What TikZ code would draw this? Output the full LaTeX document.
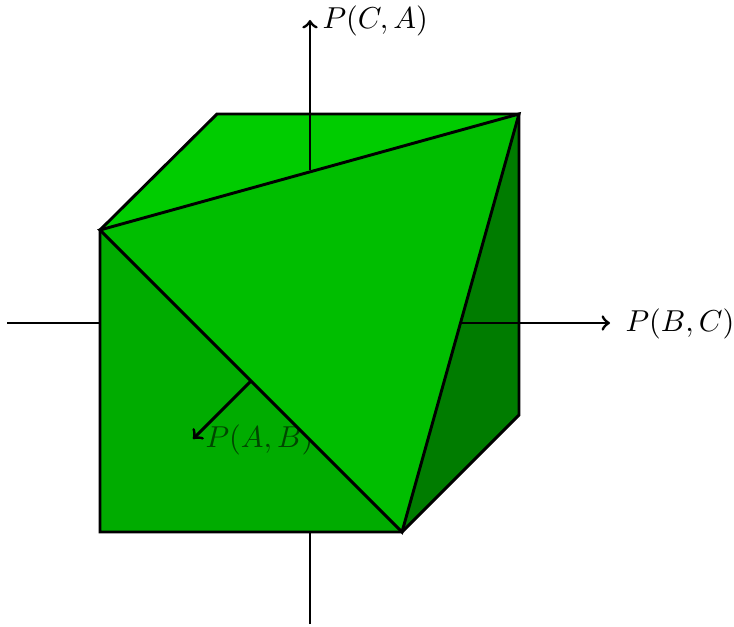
\documentclass[tikz,border=0pt]{standalone}
\newcommand{\biglabel}[1]{\scalebox{1.14}{$#1$}}
\begin{document}
\begin{tikzpicture}[x=0.3768pt,y=-0.3768pt,
  edge/.style={line width=1.1pt,line join=miter},
  axis/.style={line width=1.1pt},
  arrowaxis/.style={axis,->},
  lbl/.style={inner sep=0pt,anchor=base west}]
\definecolor{topc}{RGB}{0,204,0}
\definecolor{frontc}{RGB}{0,172,0}
\definecolor{sidec}{RGB}{0,124,0}
\definecolor{tric}{RGB}{0,190,0}
\definecolor{lblc}{RGB}{0,70,0}
\useasboundingbox (0,0) rectangle (734,627);
\coordinate (fbl) at (100,532);
\coordinate (fbr) at (402,532);
\coordinate (ftl) at (100,230);
\coordinate (btl) at (217,114);
\coordinate (btr) at (519,114);
\coordinate (bbr) at (519,415);
\coordinate (xw) at (7,323);
\coordinate (xe) at (610,323);
\coordinate (xi) at (461,323);
\coordinate (xl) at (100,323);
\coordinate (yn) at (310,20);
\coordinate (yi) at (310,170);
\coordinate (ys) at (310,624);
\coordinate (yl) at (310,532);
\coordinate (abs) at (251,381);
\coordinate (abe) at (193,439);
% outer axis parts
\draw[axis] (xw) -- (xl);
\draw[axis] (ys) -- (yl);
\node[lbl] (pbc) at (625,332) {\biglabel{P(B,C)}};
\node[lbl] (pca) at (322,29) {\biglabel{P(C,A)}};
% cube faces
\fill[topc] (ftl) -- (btl) -- (btr) -- cycle;
\fill[frontc] (fbl) -- (ftl) -- (fbr) -- cycle;
\fill[sidec] (btr) -- (bbr) -- (fbr) -- cycle;
\draw[edge] (fbr) -- (fbl) -- (ftl) -- (btl) -- (btr) -- (bbr) -- (fbr);
% front-face axis and label
\node[lbl,text=lblc] (pab) at (205,448) {\biglabel{P(A,B)}};
\draw[arrowaxis] (abs) -- (abe);
% cut triangle
\filldraw[edge,fill=tric] (ftl) -- (btr) -- (fbr) -- cycle;
% inner axis arrows
\draw[arrowaxis] (xi) -- (xe);
\draw[arrowaxis] (yi) -- (yn);
\end{tikzpicture}
\end{document}
